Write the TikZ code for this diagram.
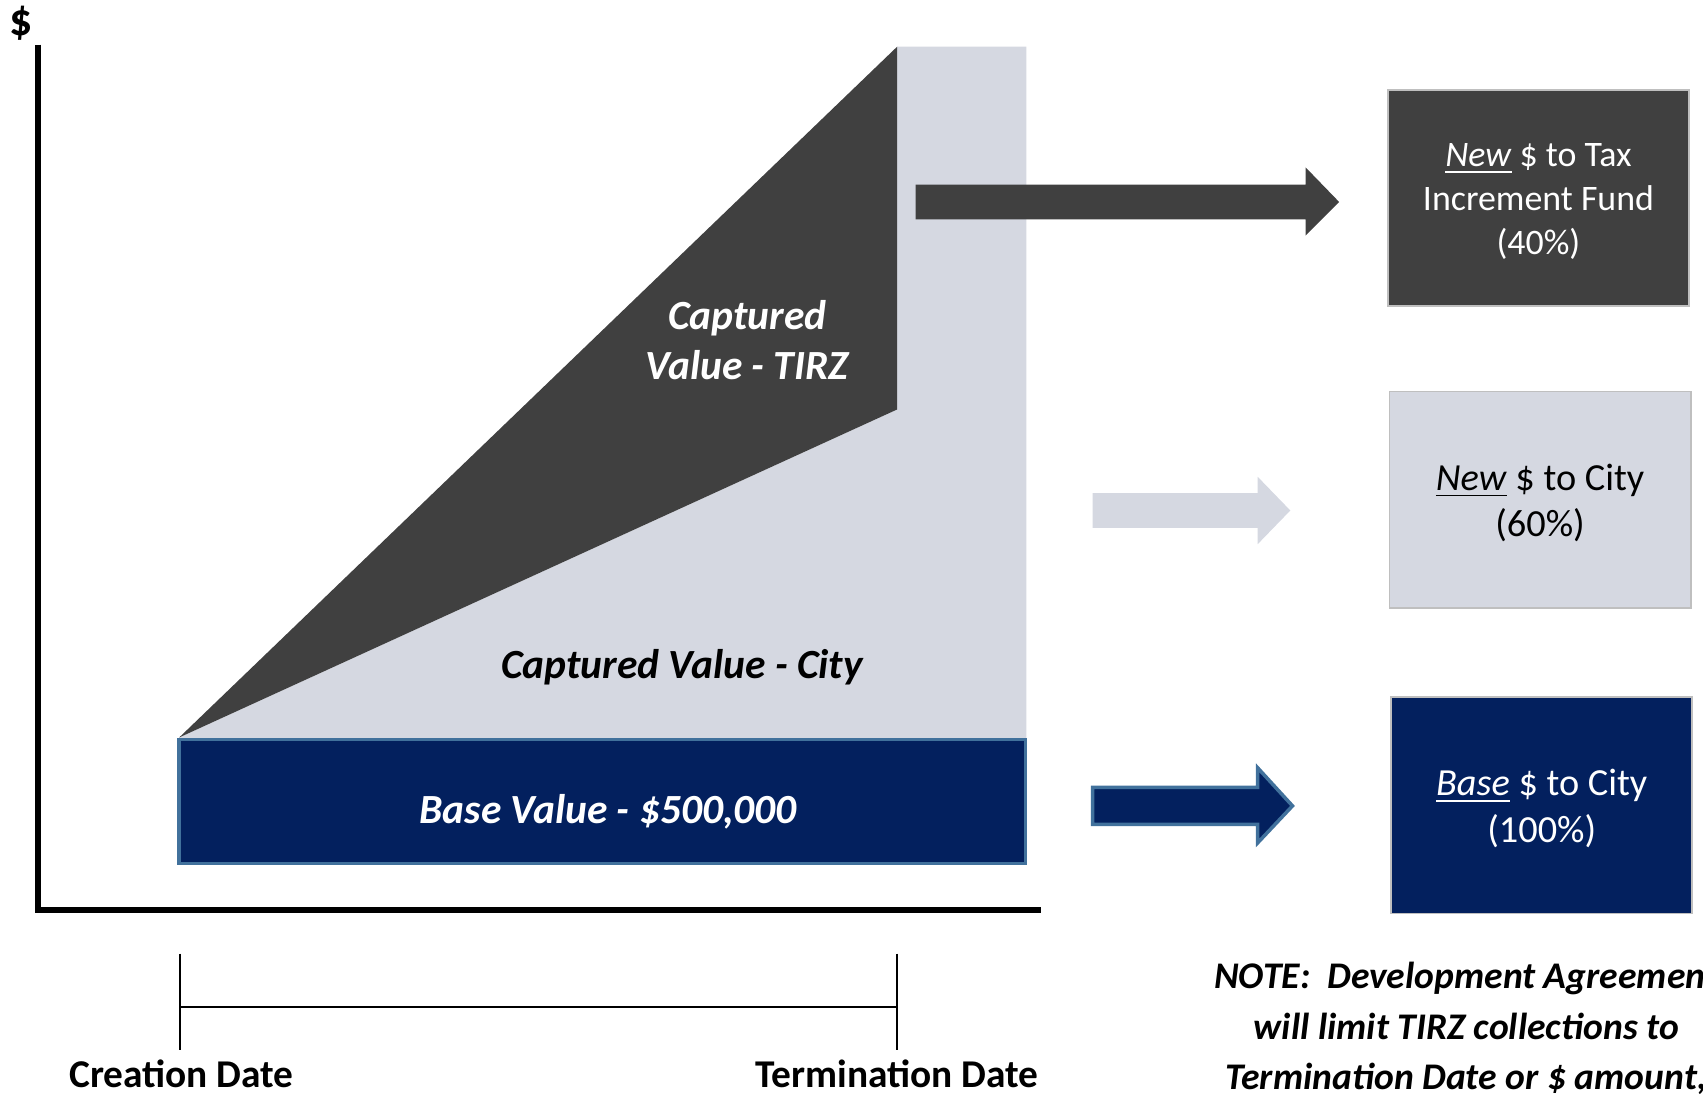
\documentclass[tikz,border=0pt]{standalone}
\usepackage{fontspec}
\setmainfont{Carlito}
\definecolor{tirzgrey}{HTML}{404040}
\definecolor{cityblue}{HTML}{D5D8E1}
\definecolor{basenavy}{HTML}{03205E}
\definecolor{baseedge}{HTML}{41719C}
\definecolor{boxedge}{HTML}{BFBFBF}

\begin{document}
\begin{tikzpicture}[x=0.1086mm, y=-0.1086mm,
    axis/.style={line width=1.6pt},
    area/.style={font=\fontsize{11.8}{14.4}\selectfont\bfseries\itshape, align=center},
    share/.style={draw=boxedge, line width=0.5pt, minimum width=30.1mm, minimum height=21.6mm},
    sharetext/.style={font=\fontsize{10.9}{13.2}\selectfont, align=center},
    datelabel/.style={font=\fontsize{11.2}{13.5}\selectfont\bfseries, inner sep=0.5pt}]
    \useasboundingbox (0,0) rectangle (1568,1010);

    % 1. axes
    \node[font=\fontsize{13}{15}\selectfont\bfseries] (dollar) at (19,21) {\$};
    \coordinate (top) at (35,41);
    \coordinate (origin) at (35,838);
    \coordinate (right) at (958,838);
    \draw[axis] (top) -- (origin) -- (right);

    % 2. value areas
    \fill[cityblue] (165,679) -- (826,377) -- (826,43) -- (945,43) -- (945,681) -- (165,681) -- cycle;
    \fill[tirzgrey] (165,679) -- (826,43) -- (826,377) -- cycle;
    \draw[baseedge, fill=basenavy, line width=1pt] (165,681) rectangle (944,795);
    \node[area, white] (tirzlabel) at (688,313) {Captured\\Value - TIRZ};
    \node[area] (citylabel) at (628,614) {Captured Value - City};
    \node[area, white] (baselabel) at (560,747) {Base Value - \$500,000};

    % 3. block arrows
    \fill[tirzgrey] (843,170) -- (1202,170) -- (1202,154) -- (1233,186) -- (1202,217) -- (1202,202) -- (843,202) -- cycle;
    \fill[cityblue] (1006,454) -- (1158,454) -- (1158,439) -- (1188,470) -- (1158,501) -- (1158,486) -- (1006,486) -- cycle;
    \draw[baseedge, fill=basenavy, line width=1pt] (1006,725) -- (1158,725) -- (1158,707) -- (1190,742) -- (1158,776) -- (1158,759) -- (1006,759) -- cycle;

    % 4. share boxes
    \node[share, fill=tirzgrey] (tirzbox) at (1416.5,182.5) {};
    \node[share, fill=cityblue] (citybox) at (1418,460) {};
    \node[share, fill=basenavy] (basebox) at (1419.5,741.5) {};
    \node[sharetext, white, font=\fontsize{10.2}{12.4}\selectfont] (tirztext) at ([yshift=-0.33mm]tirzbox.center)
        {\underline{\textit{New}} \$ to Tax\\Increment Fund\\(40\%)};
    \node[sharetext] (citytext) at ([yshift=-0.33mm]citybox.center) {\underline{\textit{New}} \$ to City\\(60\%)};
    \node[sharetext, white] (basetext) at ([yshift=-0.33mm]basebox.center) {\underline{\textit{Base}} \$ to City\\(100\%)};

    % 5. time line
    \coordinate (start) at (166,927);
    \coordinate (stop) at (826,927);
    \draw[line width=0.5pt] (166,878) -- (166,967);
    \draw[line width=0.5pt] (826,878) -- (826,967);
    \draw[line width=0.7pt] (start) -- (stop);
    \node[datelabel] (creation) at (167,989) {Creation Date};
    \node[datelabel] (termination) at (826,989) {Termination Date};

    % 6. note
    \node[font=\fontsize{10.7}{14.3}\selectfont\bfseries\itshape, align=center, inner sep=0.5pt] (note) at (1350,947)
        {NOTE:\ \ Development Agreemen\phantom{t}\\will limit TIRZ collections to\\Termination Date or \$ amount,};
\end{tikzpicture}
\end{document}
